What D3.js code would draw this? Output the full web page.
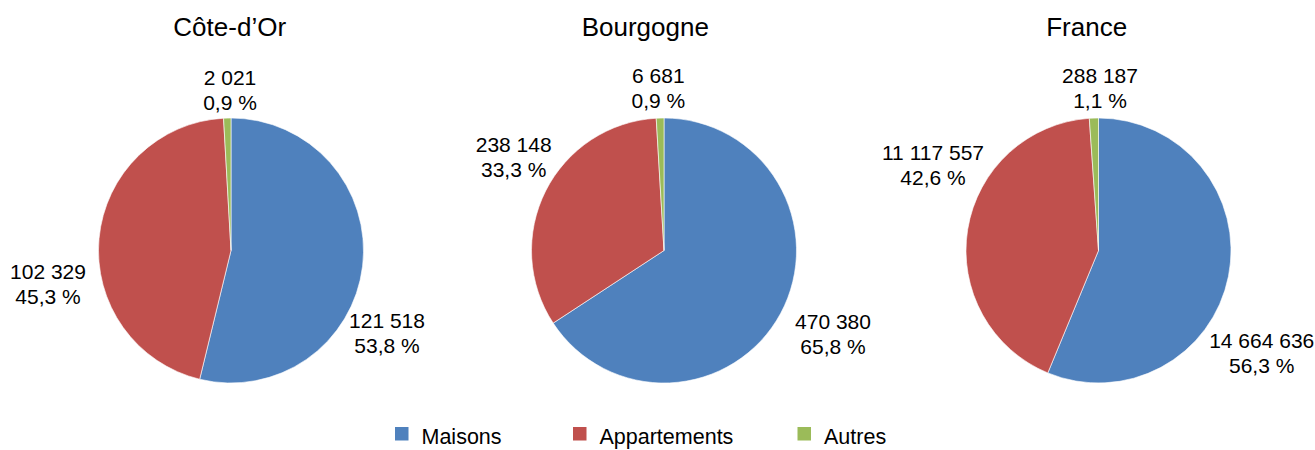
<!DOCTYPE html>
<html>
<head>
<meta charset="utf-8">
<script src="https://cdn.jsdelivr.net/npm/d3@7"></script>
<style>
  html, body { margin: 0; padding: 0; background: #fff; }
  svg { display: block; }
  text { font-family: "Liberation Sans", Arial, sans-serif; fill: #000; }
</style>
</head>
<body>
<svg id="chart" width="1315" height="450"></svg>
<script>
// ---- data ----
const regions = ["Côte-d’Or", "Bourgogne", "France"];
const categories = ["Maisons", "Appartements", "Autres"];
const maisons = [121518, 470380, 14664636];
const appartements = [102329, 238148, 11117557];
const autres = [2021, 6681, 288187];
const maisonsPct = [53.8, 65.8, 56.3];
const appartementsPct = [45.3, 33.3, 42.6];
const autresPct = [0.9, 0.9, 1.1];
const colors = ["#4F81BD", "#C0504D", "#9BBB59"];

// ---- layout ----
const pieCenters = [[231, 250.5], [664, 250.5], [1098.5, 250.5]];
const radius = 132.5;
const titleDx = [-1.3, -18.7, -11.8];
const titleBaseline = 36;
// label offsets from pie centre (x centre, vertical middle of the two-line block)
const labelOffsets = [
  [[156, 82.5], [-183, 33], [-1, -161]],
  [[169, 83], [-150.3, -93.8], [-5.7, -163]],
  [[163.2, 102.3], [-165.5, -85.5], [1.5, -162.5]]
];

const fr = d3.formatLocale({decimal: ",", thousands: "\u00a0", grouping: [3], currency: ["", " €"]});
const fmtInt = fr.format(",d");
const fmtPct = fr.format(".1f");

const svg = d3.select("#chart");
const pie = d3.pie().sort(null).value(d => d.value);
const arc = d3.arc().innerRadius(0).outerRadius(radius);

regions.forEach((region, i) => {
  const data = [
    {cat: categories[0], value: maisons[i], pct: maisonsPct[i], color: colors[0]},
    {cat: categories[1], value: appartements[i], pct: appartementsPct[i], color: colors[1]},
    {cat: categories[2], value: autres[i], pct: autresPct[i], color: colors[2]}
  ];
  const [cx, cy] = pieCenters[i];
  const g = svg.append("g").attr("transform", `translate(${cx},${cy})`);

  g.selectAll("path")
    .data(pie(data))
    .join("path")
    .attr("d", arc)
    .attr("fill", d => d.data.color)
    .attr("stroke", "#fff")
    .attr("stroke-width", 0.6);

  svg.append("text")
    .attr("x", cx + titleDx[i])
    .attr("y", titleBaseline)
    .attr("text-anchor", "middle")
    .attr("font-size", 26)
    .text(region);

  data.forEach((d, j) => {
    const [dx, dy] = labelOffsets[i][j];
    const t = g.append("text")
      .attr("text-anchor", "middle")
      .attr("font-size", 21);
    t.append("tspan").attr("x", dx).attr("y", dy - 5).text(fmtInt(d.value));
    t.append("tspan").attr("x", dx).attr("y", dy + 20).text(fmtPct(d.pct) + "\u00a0%");
  });
});

// ---- legend ----
const legendX = [395, 573, 797.5];
const legend = svg.append("g");
categories.forEach((c, j) => {
  legend.append("rect")
    .attr("x", legendX[j]).attr("y", 427)
    .attr("width", 13.5).attr("height", 13.5)
    .attr("fill", colors[j]);
  legend.append("text")
    .attr("x", legendX[j] + 26.5).attr("y", 444)
    .attr("font-size", 21.5)
    .text(c);
});
</script>
</body>
</html>
